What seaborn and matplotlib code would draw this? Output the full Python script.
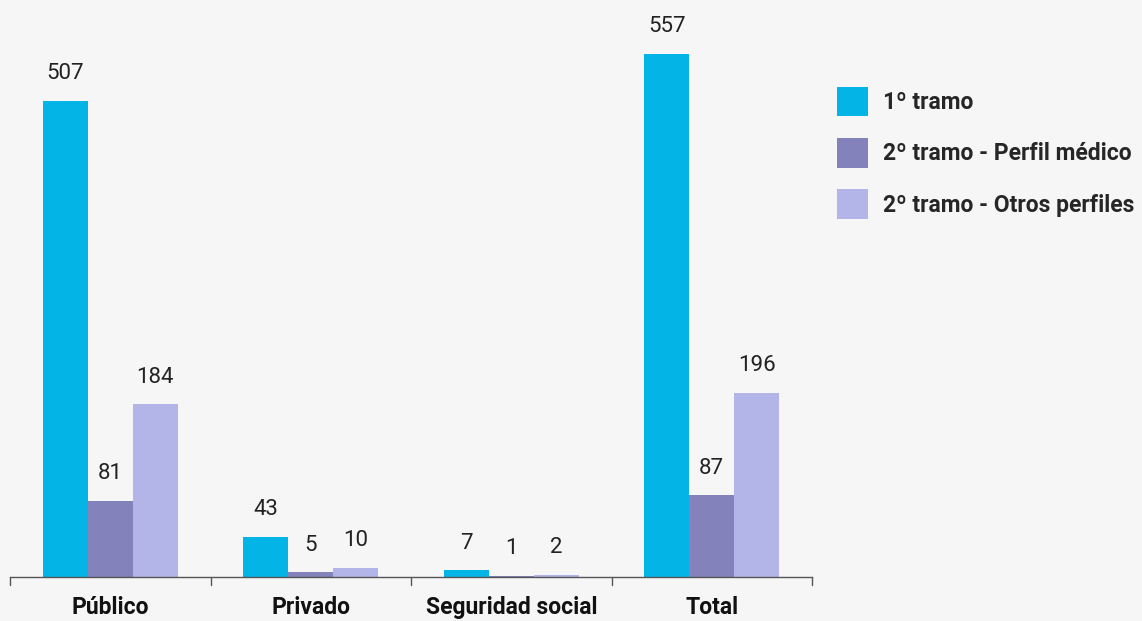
import matplotlib
matplotlib.use("Agg")
import matplotlib.pyplot as plt
import seaborn as sns
import pandas as pd
from matplotlib.patches import Patch

categories = ["Público", "Privado", "Seguridad social", "Total"]
series_names = ["1º tramo", "2º tramo - Perfil médico", "2º tramo - Otros perfiles"]
tramo1 = [507, 43, 7, 557]
perfil_medico = [81, 5, 1, 87]
otros_perfiles = [184, 10, 2, 196]
colors = ["#03B4E6", "#8382BB", "#B3B4E8"]

rows = []
for s, vals in zip(series_names, [tramo1, perfil_medico, otros_perfiles]):
    for c, v in zip(categories, vals):
        rows.append({"cat": c, "serie": s, "valor": v})
df = pd.DataFrame(rows)

sns.set_theme(style="white")
plt.rcParams["font.family"] = ["Roboto", "DejaVu Sans"]
bg = "#F6F6F6"

fig = plt.figure(figsize=(11.42, 6.21), dpi=100, facecolor=bg)
ax = fig.add_axes([10/1142, 44/621, 802/1142, 563.4/621])
ax.set_facecolor(bg)

sns.barplot(data=df, x="cat", y="valor", hue="serie", hue_order=series_names,
            order=categories, palette=colors, width=0.675, saturation=1,
            legend=False, ax=ax, edgecolor="none", linewidth=0)

for cont in ax.containers:
    ax.bar_label(cont, labels=[f"{int(b.get_height())}" for b in cont],
                 padding=12, fontsize=16, color="#222222")

ax.set_xlim(-0.5, 3.5)
ax.set_ylim(0, 600)
ax.set_xlabel("")
ax.set_ylabel("")
ax.set_yticks([])
for s in ["top", "right", "left"]:
    ax.spines[s].set_visible(False)
ax.spines["bottom"].set_color("#555555")
ax.spines["bottom"].set_linewidth(1)

ax.set_xticks([0, 1, 2, 3])
ax.set_xticklabels(categories, fontsize=16.5, fontweight="bold", color="#111111")
ax.tick_params(axis="x", length=0, pad=14)
for xb in [-0.5, 0.5, 1.5, 2.5, 3.5]:
    ax.plot([xb, xb], [0, -9], color="#555555", lw=1, clip_on=False)

handles = [Patch(facecolor=c, edgecolor="none") for c in colors]
fig.legend(handles, series_names, loc="upper left", bbox_to_anchor=(830/1142, 1 - 80/621),
           frameon=False, prop={"weight": "bold", "size": 16.5},
           handlelength=1.35, handleheight=1.6, labelspacing=0.95, handletextpad=0.65,
           borderaxespad=0, borderpad=0.3)

fig.savefig("out.png", dpi=100, facecolor=bg)
